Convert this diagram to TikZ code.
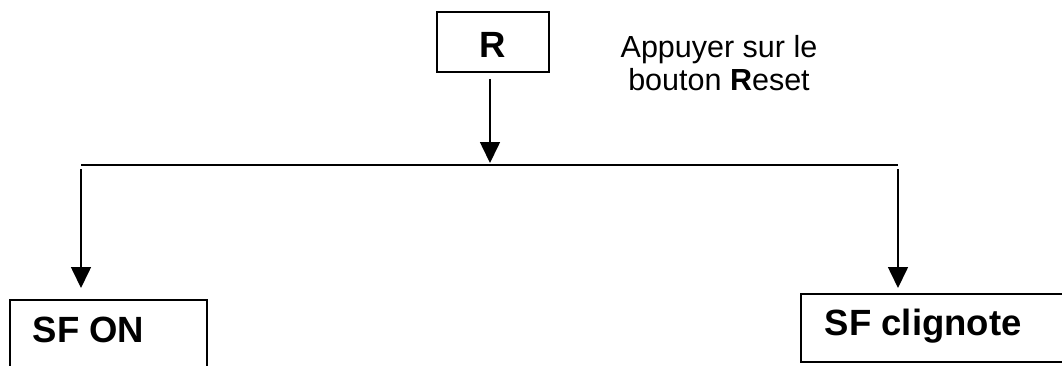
\documentclass[tikz,border=0pt]{standalone}
\usepackage{fontspec}
\setmainfont{Liberation Sans}
\usetikzlibrary{arrows.meta}
\begin{document}
\begin{tikzpicture}[x=1pt,y=-1pt,
  line width=1.6pt,
  arr/.style={-{Triangle[length=21pt,width=20pt]}},
  box/.style={draw,line width=1.6pt,inner sep=0pt},
  big/.style={font=\fontsize{36.5}{40}\selectfont\bfseries,inner sep=0pt},
  note/.style={font=\fontsize{30.5}{33}\selectfont,align=center,inner sep=0pt}]
\useasboundingbox (0,0) rectangle (1062,365);
\clip (0,0) rectangle (1062,365);
% top box
\node[box,minimum width=112pt,minimum height=60pt] (R) at (493,42) {};
\node[big,anchor=base] (Rt) at (493,57) {R};
\node[note,anchor=base] (txt) at (719,90) {Appuyer sur le\\bouton \textbf{R}eset};
% junction line
\coordinate (jl) at (81,165);
\coordinate (jm) at (490,165);
\coordinate (jr) at (898,165);
\draw (jl) -- (jr);
% bottom boxes
\node[box,anchor=north west,minimum width=197pt,minimum height=100pt] (sfon) at (9,299) {};
\node[big,anchor=base west] (sfont) at (32,342) {SF ON};
\node[box,anchor=north west,minimum width=300pt,minimum height=68pt] (sfcl) at (800,293) {};
\node[big,anchor=base west] (sfclt) at (824,335) {SF clignote};
% arrows
\draw[arr,shorten <=6pt,shorten >=2pt] (R.south -| jm) -- (jm);
\draw[arr,shorten <=4pt,shorten >=11pt] (jl) -- (sfon.north -| jl);
\draw[arr,shorten <=4pt,shorten >=5pt] (jr) -- (sfcl.north -| jr);
\end{tikzpicture}
\end{document}
